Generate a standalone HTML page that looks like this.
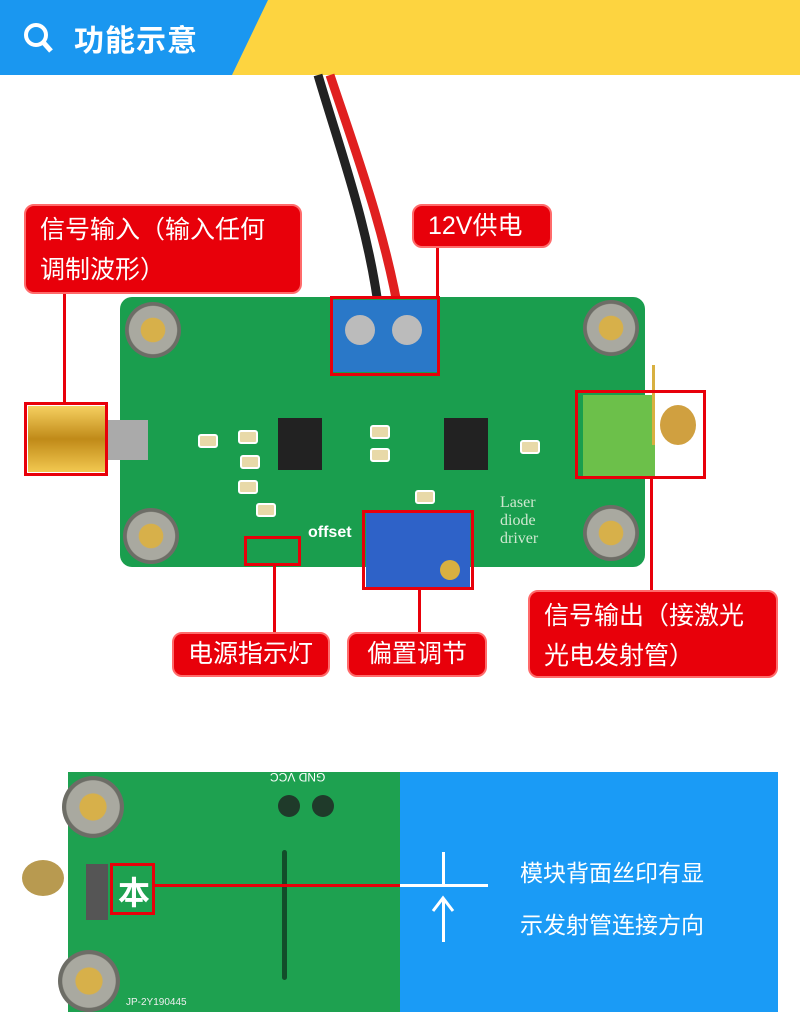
<!DOCTYPE html>
<html><head><meta charset="utf-8"><style>
body{margin:0;width:800px;height:1029px;background:#fff;position:relative;overflow:hidden;font-family:"Liberation Sans","Noto Sans CJK SC",sans-serif}
.a{position:absolute}
.lbl{position:absolute;background:#e8000a;color:#fff;border-radius:10px;font-size:25px;line-height:38px;padding:0 14px;box-sizing:border-box;border:2px solid #ff6b6b}
.ob{position:absolute;border:3px solid #e8000a;box-sizing:border-box}
.vl{position:absolute;width:3px;background:#e8000a}
.nut{position:absolute;width:56px;height:56px;border-radius:50%;background:radial-gradient(circle,#d7b04a 0 30%,#a9a9a0 32% 60%,#6d6d66 62% 100%)}
.smd{position:absolute;width:16px;height:10px;background:#e8d9a8;border:2px solid #fff;border-radius:3px}
</style></head><body>
<svg class="a" style="left:0;top:0" width="800" height="75"><rect width="800" height="75" fill="#fdd440"/><polygon points="0,0 268,0 232,75 0,75" fill="#1a97f0"/><circle cx="36" cy="35" r="10" fill="none" stroke="#fff" stroke-width="4"/><line x1="43" y1="42" x2="51" y2="51" stroke="#fff" stroke-width="5"/></svg>
<div class="a" style="left:74px;top:16px;color:#fff;font-size:30px;font-weight:bold;letter-spacing:1px">功能示意</div>
<svg class="a" style="left:0;top:0" width="800" height="330"><path d="M318,75 C340,150 370,230 380,320" stroke="#222" stroke-width="9" fill="none"/><path d="M330,75 C355,150 385,230 400,320" stroke="#e02020" stroke-width="9" fill="none"/></svg>
<div class="a" style="left:120px;top:297px;width:525px;height:270px;background:#1a9e4e;border-radius:12px"></div>
<div class="nut" style="left:125px;top:302px"></div><div class="nut" style="left:583px;top:300px"></div>
<div class="nut" style="left:123px;top:508px"></div><div class="nut" style="left:583px;top:505px"></div>
<div class="a" style="left:333px;top:300px;width:104px;height:72px;background:#2a78c8"></div>
<div class="a" style="left:345px;top:315px;width:30px;height:30px;border-radius:50%;background:#bbb"></div>
<div class="a" style="left:392px;top:315px;width:30px;height:30px;border-radius:50%;background:#bbb"></div>
<div class="a" style="left:583px;top:395px;width:72px;height:82px;background:#6cc04a"></div>
<div class="a" style="left:660px;top:405px;width:36px;height:40px;border-radius:50%;background:#d0a040"></div>
<div class="a" style="left:652px;top:365px;width:3px;height:80px;background:#d8b040"></div>
<div class="a" style="left:366px;top:512px;width:104px;height:76px;background:#2e62c8"></div>
<div class="a" style="left:440px;top:560px;width:20px;height:20px;border-radius:50%;background:#d8b040"></div>
<div class="a" style="left:28px;top:406px;width:80px;height:66px;background:linear-gradient(#f6d060,#c08a18,#f2c850)"></div>
<div class="a" style="left:108px;top:420px;width:40px;height:40px;background:#aaa"></div>
<div class="a" style="left:278px;top:418px;width:44px;height:52px;background:#222"></div>
<div class="a" style="left:444px;top:418px;width:44px;height:52px;background:#222"></div>
<div class="a" style="left:308px;top:524px;color:#fff;font-size:16px;font-weight:bold">offset</div>
<div class="a" style="left:500px;top:494px;color:#cfe8d0;font-size:16px;font-family:'Liberation Serif';line-height:18px">Laser<br>diode<br>driver</div>
<div class="smd" style="left:198px;top:434px"></div><div class="smd" style="left:238px;top:430px"></div><div class="smd" style="left:240px;top:455px"></div><div class="smd" style="left:238px;top:480px"></div><div class="smd" style="left:370px;top:425px"></div><div class="smd" style="left:370px;top:448px"></div><div class="smd" style="left:415px;top:490px"></div><div class="smd" style="left:520px;top:440px"></div><div class="smd" style="left:256px;top:503px"></div>
<div class="ob" style="left:24px;top:402px;width:84px;height:74px"></div>
<div class="ob" style="left:330px;top:296px;width:110px;height:80px"></div>
<div class="ob" style="left:575px;top:390px;width:131px;height:89px"></div>
<div class="ob" style="left:244px;top:536px;width:57px;height:30px"></div>
<div class="ob" style="left:362px;top:510px;width:112px;height:80px"></div>
<div class="vl" style="left:63px;top:290px;height:114px"></div>
<div class="vl" style="left:436px;top:245px;height:53px"></div>
<div class="vl" style="left:273px;top:565px;height:68px"></div>
<div class="vl" style="left:418px;top:589px;height:44px"></div>
<div class="vl" style="left:650px;top:478px;height:112px"></div>
<div class="lbl" style="left:24px;top:204px;width:278px;height:90px;line-height:40px;padding-top:4px">信号输入（输入任何<br>调制波形）</div>
<div class="lbl" style="left:412px;top:204px;width:140px;height:44px;line-height:40px">12V供电</div>
<div class="lbl" style="left:172px;top:632px;width:158px;height:45px;line-height:41px">电源指示灯</div>
<div class="lbl" style="left:347px;top:632px;width:140px;height:45px;line-height:41px;padding-left:18px">偏置调节</div>
<div class="lbl" style="left:528px;top:590px;width:250px;height:88px;line-height:40px;padding-top:4px">信号输出（接激光<br>光电发射管）</div>
<div class="a" style="left:68px;top:772px;width:335px;height:240px;background:#1ea150"></div>
<div class="nut" style="left:62px;top:776px;width:62px;height:62px"></div>
<div class="nut" style="left:58px;top:950px;width:62px;height:62px"></div>
<div class="a" style="left:22px;top:860px;width:42px;height:36px;border-radius:50%;background:#b89a50"></div>
<div class="a" style="left:86px;top:864px;width:22px;height:56px;background:#555"></div>
<div class="a" style="left:278px;top:795px;width:22px;height:22px;border-radius:50%;background:#1f3a2a"></div>
<div class="a" style="left:312px;top:795px;width:22px;height:22px;border-radius:50%;background:#1f3a2a"></div>
<div class="a" style="left:282px;top:850px;width:5px;height:130px;background:#124d2a;border-radius:3px"></div>
<div class="a" style="left:270px;top:770px;color:#fff;font-size:12px;transform:rotate(180deg)">GND VCC</div>
<div class="a" style="left:126px;top:997px;color:#eee;font-size:10px">JP-2Y190445</div>
<div class="ob" style="left:110px;top:863px;width:45px;height:52px"></div>
<div class="a" style="left:118px;top:868px;color:#fff;font-size:32px;font-weight:bold">本</div>
<div class="a" style="left:155px;top:884px;width:246px;height:3px;background:#e8000a"></div>
<div class="a" style="left:400px;top:772px;width:378px;height:240px;background:#1a9bf6"></div>
<div class="a" style="left:400px;top:884px;width:88px;height:3px;background:#fff"></div>
<div class="a" style="left:442px;top:852px;width:3px;height:33px;background:#fff"></div>
<div class="a" style="left:442px;top:900px;width:3px;height:42px;background:#fff"></div>
<svg class="a" style="left:431px;top:893px" width="26" height="20"><polyline points="2,18 12,5 22,18" stroke="#fff" stroke-width="3" fill="none"/></svg>
<div class="a" style="left:520px;top:847px;color:#fff;font-size:23px;line-height:52px">模块背面丝印有显<br>示发射管连接方向</div>
</body></html>
